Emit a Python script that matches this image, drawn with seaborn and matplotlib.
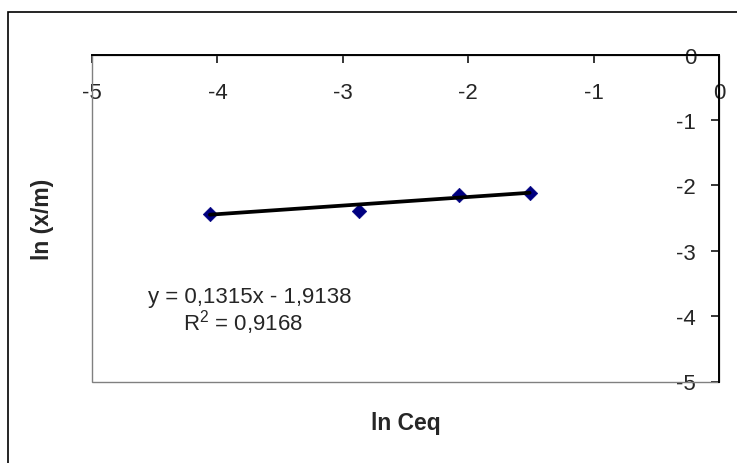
import numpy as np
import pandas as pd
import matplotlib
matplotlib.use("Agg")
import matplotlib.pyplot as plt
from matplotlib.patches import Rectangle
import seaborn as sns

# Freundlich isotherm, linearised form
ln_ceq = [-4.06, -2.87, -2.07, -1.51]
ln_xm = [-2.43, -2.39, -2.15, -2.12]

slope = 0.1315
intercept = -1.9138
r_squared = 0.9168

x_ticks = [-5, -4, -3, -2, -1, 0]
y_ticks = [-5, -4, -3, -2, -1, 0]
x_tick_labels = ["-5", "-4", "-3", "-2", "-1", "0"]
y_tick_labels = ["-5", "-4", "-3", "-2", "-1", "0"]

sns.set_style("white")
plt.rcParams["font.family"] = ["Liberation Sans", "DejaVu Sans"]
plt.rcParams["axes.unicode_minus"] = False

W, H = 737, 464
fig = plt.figure(figsize=(W / 100, H / 100), dpi=100)
fig.patch.set_facecolor("white")

left, right, top, bottom = 92, 719, 55.7, 382.5
ax = fig.add_axes([left / W, 1 - bottom / H, (right - left) / W, (bottom - top) / H])
ax.set_facecolor("white")

df = pd.DataFrame({"ln Ceq": ln_ceq, "ln (x/m)": ln_xm})

# measured points
sns.scatterplot(data=df, x="ln Ceq", y="ln (x/m)", ax=ax, marker="D", s=55,
                color="#000080", edgecolor="#000080", linewidth=0.4, zorder=3,
                legend=False)

# linear trendline over the data range
x_fit = np.array([min(ln_ceq), max(ln_ceq)])
fit_df = pd.DataFrame({"x": x_fit, "y": slope * x_fit + intercept})
sns.lineplot(data=fit_df, x="x", y="y", ax=ax, color="black", linewidth=2.7,
             zorder=4, legend=False)

ax.set_xlim(-5, 0)
ax.set_ylim(-5, 0)

# plot-area border
ax.add_patch(Rectangle((0, 0), 1, 1, transform=ax.transAxes, fill=False,
                       edgecolor="#808080", linewidth=1.0, zorder=1, clip_on=False))

# axes cross at the origin (top-right corner)
for s in ("top", "right"):
    ax.spines[s].set_visible(False)
ax.spines["bottom"].set_position(("data", 0))
ax.spines["left"].set_position(("data", 0))
for s in ("bottom", "left"):
    ax.spines[s].set_color("black")
    ax.spines[s].set_linewidth(1.4)
    ax.spines[s].set_zorder(5)

ax.set_xticks(x_ticks)
ax.set_xticklabels(x_tick_labels)
ax.set_yticks(y_ticks)
ax.set_yticklabels(y_tick_labels)
ax.tick_params(axis="x", direction="out", length=5.5, width=1.1, color="black",
               labelsize=16, pad=14, bottom=True)
ax.tick_params(axis="y", direction="out", length=5.5, width=1.1, color="black",
               labelsize=16, pad=11, left=True)
ax.grid(False)

ax.set_xlabel("ln Ceq", fontsize=16.5, fontweight="bold")
ax.set_ylabel("ln (x/m)", fontsize=16.5, fontweight="bold")
ax.xaxis.label.set_va("center")
ax.yaxis.label.set_va("center")
ax.xaxis.set_label_coords(0.5, -(424 - bottom) / (bottom - top))
ax.yaxis.set_label_coords(-(left - 43) / (right - left), 0.5)

# trendline equation
ax.text(-4.553, -3.784, f"y = {slope:.4f}x - {abs(intercept):.4f}".replace(".", ","),
        fontsize=16, va="baseline", ha="left", zorder=6)
ax.text(-4.274, -4.197, r"$\mathregular{R^2}$ = " + f"{r_squared:.4f}".replace(".", ","),
        fontsize=16, va="baseline", ha="left", zorder=6)

# chart-area border
fig.add_artist(Rectangle((8 / W, -0.1), 2, 1.1 - 13 / H, transform=fig.transFigure,
                         fill=False, edgecolor="black", linewidth=1.2))

fig.savefig("out.png", dpi=100)
